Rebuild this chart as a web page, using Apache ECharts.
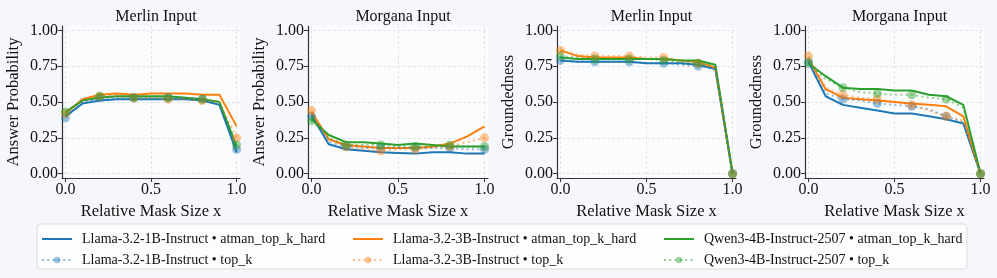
<!DOCTYPE html>
<html><head><meta charset="utf-8">
<script src="https://cdn.jsdelivr.net/npm/echarts@6/dist/echarts.min.js"></script>
<style>html,body{margin:0;padding:0;background:#f6f7fb;}#c{width:997px;height:278px;}</style>
</head><body><div id="c"></div>
<script>
const xs = [0, 0.1, 0.2, 0.3, 0.4, 0.5, 0.6, 0.7, 0.8, 0.9, 1.0];
const panelTitles = ['Merlin Input', 'Morgana Input', 'Merlin Input', 'Morgana Input'];
const yLabels = ['Answer Probability', 'Answer Probability', 'Groundedness', 'Groundedness'];
const xLabel = 'Relative Mask Size x';
const xTicks = [0, 0.5, 1.0];
const yTicks = [0, 0.25, 0.5, 0.75, 1.0];
const seriesNames = [
  'Llama-3.2-1B-Instruct • atman_top_k_hard',
  'Llama-3.2-3B-Instruct • atman_top_k_hard',
  'Qwen3-4B-Instruct-2507 • atman_top_k_hard',
  'Llama-3.2-1B-Instruct • top_k',
  'Llama-3.2-3B-Instruct • top_k',
  'Qwen3-4B-Instruct-2507 • top_k'
];

// Panel 1: Merlin Input, Answer Probability
const p1_l1_hard = [0.40, 0.49, 0.51, 0.52, 0.52, 0.52, 0.52, 0.52, 0.51, 0.48, 0.15];
const p1_l3_hard = [0.42, 0.52, 0.55, 0.56, 0.55, 0.56, 0.56, 0.56, 0.55, 0.55, 0.33];
const p1_q_hard  = [0.43, 0.51, 0.53, 0.54, 0.54, 0.54, 0.54, 0.53, 0.52, 0.50, 0.19];
const p1_l1_topk = [0.39, 0.50, 0.53, 0.53, 0.53, 0.53, 0.53, 0.53, 0.52, 0.48, 0.17];
const p1_l3_topk = [0.42, 0.51, 0.54, 0.54, 0.53, 0.53, 0.52, 0.52, 0.51, 0.50, 0.25];
const p1_q_topk  = [0.43, 0.51, 0.54, 0.54, 0.53, 0.53, 0.53, 0.53, 0.52, 0.50, 0.20];
// Panel 2: Morgana Input, Answer Probability
const p2_l1_hard = [0.41, 0.205, 0.17, 0.16, 0.15, 0.145, 0.14, 0.15, 0.15, 0.14, 0.14];
const p2_l3_hard = [0.43, 0.24, 0.20, 0.19, 0.18, 0.18, 0.18, 0.19, 0.21, 0.26, 0.33];
const p2_q_hard  = [0.38, 0.27, 0.22, 0.22, 0.21, 0.20, 0.21, 0.20, 0.19, 0.19, 0.19];
const p2_l1_topk = [0.40, 0.22, 0.19, 0.18, 0.18, 0.18, 0.18, 0.18, 0.18, 0.17, 0.17];
const p2_l3_topk = [0.44, 0.24, 0.19, 0.17, 0.16, 0.17, 0.17, 0.18, 0.19, 0.22, 0.25];
const p2_q_topk  = [0.37, 0.25, 0.20, 0.20, 0.20, 0.19, 0.19, 0.19, 0.20, 0.19, 0.19];
// Panel 3: Merlin Input, Groundedness
const p3_l1_hard = [0.79, 0.78, 0.78, 0.78, 0.78, 0.77, 0.77, 0.77, 0.76, 0.73, 0.0];
const p3_l3_hard = [0.86, 0.82, 0.81, 0.81, 0.81, 0.80, 0.80, 0.79, 0.78, 0.74, 0.0];
const p3_q_hard  = [0.81, 0.80, 0.80, 0.80, 0.80, 0.80, 0.80, 0.79, 0.79, 0.76, 0.0];
const p3_l1_topk = [0.79, 0.78, 0.78, 0.78, 0.78, 0.77, 0.77, 0.76, 0.75, 0.73, 0.0];
const p3_l3_topk = [0.86, 0.83, 0.82, 0.82, 0.82, 0.81, 0.81, 0.79, 0.77, 0.74, 0.0];
const p3_q_topk  = [0.82, 0.81, 0.80, 0.80, 0.80, 0.80, 0.79, 0.78, 0.77, 0.75, 0.0];
// Panel 4: Morgana Input, Groundedness
const p4_l1_hard = [0.78, 0.54, 0.48, 0.46, 0.44, 0.42, 0.42, 0.40, 0.38, 0.35, 0.0];
const p4_l3_hard = [0.80, 0.59, 0.53, 0.52, 0.51, 0.50, 0.49, 0.48, 0.47, 0.40, 0.0];
const p4_q_hard  = [0.77, 0.68, 0.60, 0.59, 0.59, 0.58, 0.58, 0.55, 0.54, 0.48, 0.0];
const p4_l1_topk = [0.78, 0.56, 0.52, 0.51, 0.49, 0.48, 0.47, 0.45, 0.40, 0.36, 0.0];
const p4_l3_topk = [0.82, 0.60, 0.55, 0.53, 0.52, 0.50, 0.48, 0.44, 0.40, 0.37, 0.0];
const p4_q_topk  = [0.77, 0.66, 0.60, 0.57, 0.56, 0.55, 0.55, 0.53, 0.52, 0.46, 0.0];

const panels = [
  [p1_l1_hard, p1_l3_hard, p1_q_hard, p1_l1_topk, p1_l3_topk, p1_q_topk],
  [p2_l1_hard, p2_l3_hard, p2_q_hard, p2_l1_topk, p2_l3_topk, p2_q_topk],
  [p3_l1_hard, p3_l3_hard, p3_q_hard, p3_l1_topk, p3_l3_topk, p3_q_topk],
  [p4_l1_hard, p4_l3_hard, p4_q_hard, p4_l1_topk, p4_l3_topk, p4_q_topk]
];

const colors = ['#1f77b4', '#ff7f0e', '#2ca02c'];
const FONT = '"Liberation Serif", "DejaVu Serif", serif';
const gridPos = [
  {left: 62, width: 178}, {left: 308, width: 180}, {left: 557, width: 179}, {left: 805, width: 179}
];
const TOP = 26, HEIGHT = 152;
const DOT = [2, 3.3];

const grid = [], xAxis = [], yAxis = [], series = [], title = [];
gridPos.forEach((g, i) => {
  grid.push({left: g.left, width: g.width, top: TOP, height: HEIGHT, show: true,
    backgroundColor: '#fbfcfe', borderWidth: 0});
  title.push({text: panelTitles[i], left: g.left + g.width / 2, top: 4, textAlign: 'center',
    textStyle: {fontFamily: FONT, fontSize: 16, fontWeight: 'normal', color: '#111'}});
  xAxis.push({type: 'value', gridIndex: i, min: -0.02, max: 1.02,
    name: xLabel, nameLocation: 'middle', nameGap: 24,
    nameTextStyle: {fontFamily: FONT, fontSize: 16.5, color: '#111'},
    axisLine: {show: true, onZero: false, lineStyle: {color: '#333', width: 1.2}},
    axisTick: {show: true, customValues: xTicks, length: 4, lineStyle: {color: '#333'}},
    axisLabel: {customValues: xTicks, fontFamily: FONT, fontSize: 16, color: '#111', margin: 4,
      formatter: v => v.toFixed(1)},
    splitLine: {show: true, lineStyle: {color: '#dcdde2', type: [3, 2], width: 0.8}}
  });
  yAxis.push({type: 'value', gridIndex: i, min: -0.03, max: 1.03,
    name: yLabels[i], nameLocation: 'middle', nameGap: 40,
    nameTextStyle: {fontFamily: FONT, fontSize: 16.5, color: '#111'},
    axisLine: {show: true, onZero: false, lineStyle: {color: '#333', width: 1.2}},
    axisTick: {show: true, customValues: yTicks, length: 4, lineStyle: {color: '#333'}},
    axisLabel: {customValues: yTicks, fontFamily: FONT, fontSize: 16, color: '#111', margin: 4,
      formatter: v => v.toFixed(2)},
    splitLine: {show: true, lineStyle: {color: '#dcdde2', type: [3, 2], width: 0.8}}
  });
  panels[i].forEach((vals, k) => {
    const m = k % 3;
    const dotted = k >= 3;
    const data = xs.map((x, j) => [x, vals[j]]);
    if (!dotted) {
      series.push({type: 'line', name: seriesNames[k], xAxisIndex: i, yAxisIndex: i, data,
        symbol: 'none', color: colors[m],
        lineStyle: {color: colors[m], width: 2}, z: 3, animation: false});
    } else {
      series.push({type: 'line', name: seriesNames[k], xAxisIndex: i, yAxisIndex: i, data,
        symbol: 'circle', showAllSymbol: true, color: colors[m],
        symbolSize: (v, p) => (p.dataIndex % 2 === 0 ? 9 : 0),
        itemStyle: {color: colors[m], opacity: 0.45, borderWidth: 0},
        lineStyle: {color: colors[m], width: 2, type: DOT, cap: 'butt', opacity: 0.5},
        z: 4, animation: false});
    }
  });
});

const legendCols = [36, 347, 658];
const legend = legendCols.map((left, i) => ({
  orient: 'vertical', left: left, top: 226, itemGap: 5, itemWidth: 30, itemHeight: 8,
  data: [
    {name: seriesNames[i], itemStyle: {opacity: 0}},
    {name: seriesNames[i + 3]}
  ],
  textStyle: {fontFamily: FONT, fontSize: 14, color: '#111', padding: [0, 0, 0, 5], lineHeight: 16},
  z: 10
}));

const chart = echarts.init(document.getElementById('c'), null, {renderer: 'canvas'});
chart.setOption({
  backgroundColor: '#f6f7fb',
  animation: false,
  title, grid, xAxis, yAxis, series, legend,
  graphic: [{type: 'rect', shape: {x: 37, y: 224, width: 930, height: 45, r: 3},
    style: {fill: '#fdfdfe', stroke: '#dadbe0', lineWidth: 1}, z: 0, silent: true}]
});
</script></body></html>
